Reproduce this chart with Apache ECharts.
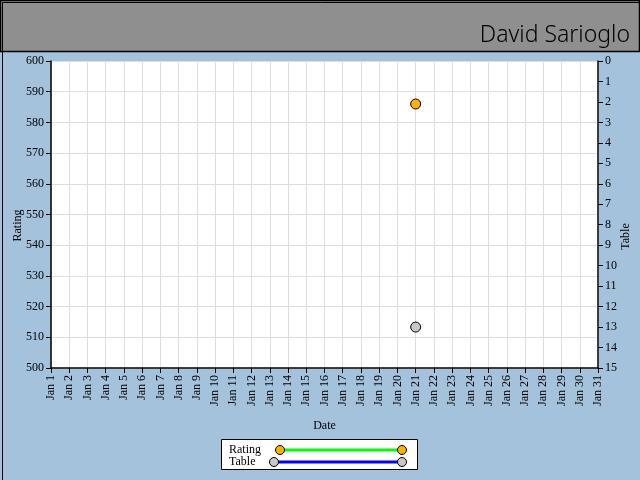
<!DOCTYPE html>
<html><head><meta charset="utf-8">
<script src="https://cdn.jsdelivr.net/npm/echarts@6/dist/echarts.min.js"></script>
<style>html,body{margin:0;padding:0;background:#a4c2dc}#c{width:640px;height:480px}</style>
</head><body><div id="c"></div>
<script>
const categories = ['Jan 1','Jan 2','Jan 3','Jan 4','Jan 5','Jan 6','Jan 7','Jan 8','Jan 9','Jan 10','Jan 11','Jan 12','Jan 13','Jan 14','Jan 15','Jan 16','Jan 17','Jan 18','Jan 19','Jan 20','Jan 21','Jan 22','Jan 23','Jan 24','Jan 25','Jan 26','Jan 27','Jan 28','Jan 29','Jan 30','Jan 31'];
const ratingValues = [null,null,null,null,null,null,null,null,null,null,null,null,null,null,null,null,null,null,null,null,586,null,null,null,null,null,null,null,null,null,null];
const tableValues = [null,null,null,null,null,null,null,null,null,null,null,null,null,null,null,null,null,null,null,null,13,null,null,null,null,null,null,null,null,null,null];
const titleText = 'David Sarioglo';

const FONT = 'Liberation Serif';
const chart = echarts.init(document.getElementById('c'));
const lbl = {color:'#000', fontFamily:FONT, fontSize:12};
chart.setOption({
  backgroundColor:'#a4c2dc',
  animation:false,
  grid:{left:51, right:42, top:61, bottom:112, show:true, backgroundColor:'#fff', borderWidth:0, containLabel:false, outerBoundsMode:'none'},
  xAxis:{type:'category', data:categories, boundaryGap:false,
    name:'Date', nameLocation:'middle', nameGap:52, nameMoveOverlap:false, nameTextStyle:lbl,
    axisLine:{onZero:false, lineStyle:{color:'#000', width:1.5}},
    axisTick:{show:true, length:5, lineStyle:{color:'#000'}, alignWithLabel:true},
    axisLabel:Object.assign({rotate:90, interval:0, margin:7}, lbl),
    splitLine:{show:true, lineStyle:{color:'#dedede'}}},
  yAxis:[
    {type:'value', min:500, max:600, interval:10,
     name:'Rating', nameLocation:'middle', nameGap:27, nameMoveOverlap:false, nameRotate:90,
     nameTextStyle:Object.assign({padding:[0,22,0,0]}, lbl),
     axisLine:{show:true, onZero:false, lineStyle:{color:'#000', width:1.5}},
     axisTick:{show:true, length:5, lineStyle:{color:'#000'}},
     axisLabel:Object.assign({margin:7}, lbl),
     splitLine:{show:true, lineStyle:{color:'#dedede'}}},
    {type:'value', min:0, max:15, interval:1, inverse:true, position:'right',
     name:'Table', nameLocation:'middle', nameGap:22, nameMoveOverlap:false, nameRotate:90,
     nameTextStyle:Object.assign({padding:[0,44,0,0]}, lbl),
     axisLine:{show:true, onZero:false, lineStyle:{color:'#000', width:1.5}},
     axisTick:{show:true, length:5, lineStyle:{color:'#000'}},
     axisLabel:Object.assign({margin:7}, lbl),
     splitLine:{show:false}}
  ],
  series:[
    {name:'Rating', type:'line', data:ratingValues, yAxisIndex:0, connectNulls:true,
     symbol:'circle', symbolSize:10, showAllSymbol:true,
     lineStyle:{color:'#00ff00', width:3},
     itemStyle:{color:'#ffb000', borderColor:'#000', borderWidth:1}},
    {name:'Table', type:'line', data:tableValues, yAxisIndex:1, connectNulls:true,
     symbol:'circle', symbolSize:10, showAllSymbol:true,
     lineStyle:{color:'#0000ff', width:3},
     itemStyle:{color:'#c8c8c8', borderColor:'#000', borderWidth:1}}
  ],
  graphic:[
    {type:'rect', left:0, top:0, shape:{x:0.5,y:0.5,width:639,height:479}, style:{fill:'none', stroke:'#000', lineWidth:1}, z:100},
    {type:'rect', shape:{x:0.5,y:0.5,width:639,height:51}, style:{fill:'#8f8f8f', stroke:'#000', lineWidth:1.5}},
    {type:'text', x:630, y:35, style:{text:titleText, font:'300 23px "Noto Sans"', fill:'#000', textAlign:'right', textVerticalAlign:'middle'}},
    {type:'rect', shape:{x:221.5,y:439.5,width:196,height:30}, style:{fill:'#fff', stroke:'#000', lineWidth:1}},
    {type:'text', x:229, y:450, style:{text:'Rating', font:'12px "'+FONT+'"', fill:'#000', textVerticalAlign:'middle'}},
    {type:'text', x:229, y:462, style:{text:'Table', font:'12px "'+FONT+'"', fill:'#000', textVerticalAlign:'middle'}},
    {type:'line', shape:{x1:280,y1:450,x2:402,y2:450}, style:{stroke:'#00ff00', lineWidth:3}},
    {type:'circle', shape:{cx:280,cy:450,r:4.5}, style:{fill:'#ffb000', stroke:'#000', lineWidth:1}},
    {type:'circle', shape:{cx:402,cy:450,r:4.5}, style:{fill:'#ffb000', stroke:'#000', lineWidth:1}},
    {type:'line', shape:{x1:274,y1:462,x2:402,y2:462}, style:{stroke:'#0000ff', lineWidth:3}},
    {type:'circle', shape:{cx:274,cy:462,r:4.5}, style:{fill:'#c8c8c8', stroke:'#000', lineWidth:1}},
    {type:'circle', shape:{cx:402,cy:462,r:4.5}, style:{fill:'#c8c8c8', stroke:'#000', lineWidth:1}}
  ]
});
</script></body></html>
